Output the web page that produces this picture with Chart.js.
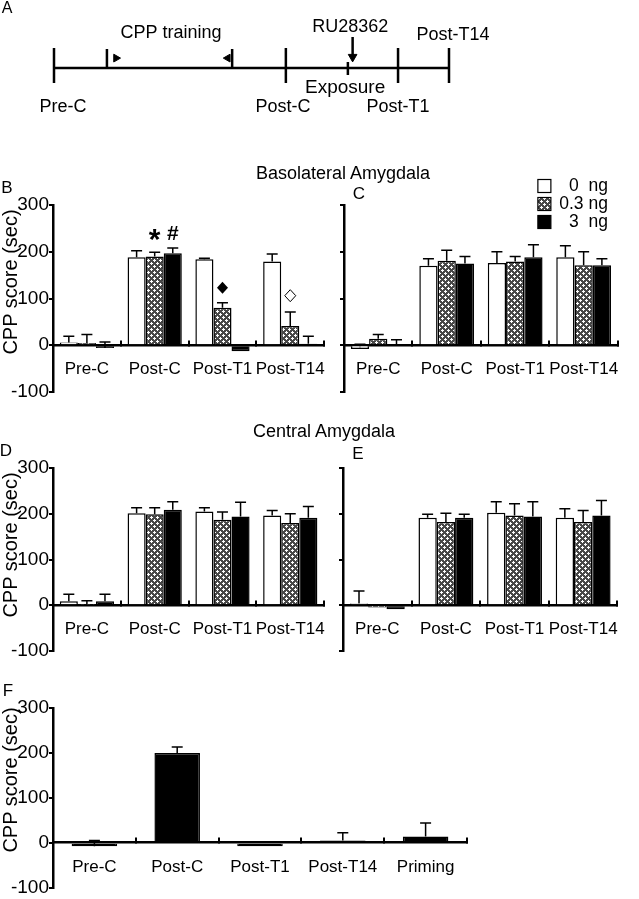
<!DOCTYPE html>
<html>
<head>
<meta charset="utf-8">
<script src="https://cdn.jsdelivr.net/npm/chart.js@4.4.1/dist/chart.umd.min.js"></script>
<style>
  body { margin: 0; background: #fff; }
  #fig { position: relative; width: 639px; height: 899px; font-family: 'Liberation Sans', Arial, sans-serif; color: #000; overflow: hidden; }
  #fig canvas { position: absolute; }
  .txt { position: absolute; white-space: pre; line-height: 1; transform: translate(-50%, -50%); }
  .ytitle { position: absolute; white-space: nowrap; font-size: 20px; line-height: 1; transform: translate(-50%, -50%) rotate(-90deg); }
</style>
</head>
<body>
<div id="fig">
  <canvas id="chartA" width="639" height="125" style="left:0;top:0"></canvas>
  <canvas id="chartB" width="345" height="215" style="left:0;top:190px"></canvas>
  <canvas id="chartC" width="309" height="235" style="left:330px;top:170px"></canvas>
  <canvas id="chartD" width="345" height="215" style="left:0;top:450px"></canvas>
  <canvas id="chartE" width="310" height="215" style="left:329px;top:450px"></canvas>
  <canvas id="chartF" width="639" height="209" style="left:0;top:690px"></canvas>

  <div class="txt" style="left:7px;top:8px;font-size:16px">A</div>
  <div class="txt" style="left:7px;top:187px;font-size:17px">B</div>
  <div class="txt" style="left:359px;top:193px;font-size:17px">C</div>
  <div class="txt" style="left:6px;top:450px;font-size:17px">D</div>
  <div class="txt" style="left:358px;top:453px;font-size:17px">E</div>
  <div class="txt" style="left:8px;top:690px;font-size:17px">F</div>
  <div class="txt" style="left:343px;top:173px;font-size:18px">Basolateral Amygdala</div>
  <div class="txt" style="left:324px;top:431px;font-size:18px">Central Amygdala</div>
  <div class="ytitle" style="left:10px;top:282px">CPP score (sec)</div>
  <div class="ytitle" style="left:10px;top:545px">CPP score (sec)</div>
  <div class="ytitle" style="left:10px;top:780px">CPP score (sec)</div>
</div>

<script>
// --- Data ---
const groups = ['Pre-C', 'Post-C', 'Post-T1', 'Post-T14']
const doses = ['0  ng', '0.3 ng', '3  ng']

// B: basolateral, RU28362 given right after Post-C
const bZero = [6, 188, 184, 179]
const bLow = [5, 190, 80, 41]
const bHigh = [-6, 197, -13, 3]
const bZeroErr = [13, 14, 2, 16]
const bLowErr = [18, 9, 11, 30]
const bHighErr = [13, 11, 0, 16]

// C: basolateral, delayed injection
const cZero = [-8, 170, 176, 188]
const cLow = [14, 181, 179, 171]
const cHigh = [0, 175, 188, 171]
const cZeroErr = [10, 15, 24, 25]
const cLowErr = [9, 22, 11, 29]
const cHighErr = [12, 15, 27, 14]

// D: central amygdala
const dZero = [9, 201, 205, 196]
const dLow = [1, 199, 187, 180]
const dHigh = [9, 209, 194, 191]
const dZeroErr = [15, 12, 8, 11]
const dLowErr = [9, 14, 17, 20]
const dHighErr = [15, 17, 31, 25]

// E: central amygdala, delayed injection
const eZero = [4, 191, 202, 191]
const eLow = [-5, 182, 196, 182]
const eHigh = [-9, 191, 194, 196]
const eZeroErr = [27, 8, 24, 20]
const eLowErr = [0, 19, 26, 25]
const eHighErr = [0, 8, 32, 33]

// F: priming test
const fGroups = ['Pre-C', 'Post-C', 'Post-T1', 'Post-T14', 'Priming']
const fValues = [-8, 200, -8, 5, 14]
const fErr = [13, 13, 0, 17, 30]

// significance marks on panel B
const bMarks = ['*', '#', 'diamond', 'openDiamond']
const bMarkGroup = [1, 1, 2, 3]
const bMarkSeries = [1, 2, 1, 1]
const bMarkY = [243, 238, 123, 106]

// timeline (panel A), positions along the schedule
const tlTests = [0, 58.7, 87.1, 100]
const tlTraining = [13.4, 45.1]
const tlDrug = 74.4
const tlText = ['CPP training', 'RU28362', 'Post-T14', 'Exposure', 'Pre-C', 'Post-C', 'Post-T1']
const tlTextX = [29.6, 75, 101, 73.7, 2.3, 58, 87.1]
const tlTextY = [1.17, 1.35, 1.1, -0.65, -1.3, -1.3, -1.3]

Chart.defaults.font.family = "'Liberation Sans', Arial, sans-serif"
Chart.defaults.color = '#000'

function makeHatch(ctx) {
  const c = document.createElement('canvas')
  c.width = 6
  c.height = 6
  const g = c.getContext('2d')
  g.fillStyle = '#484848'
  g.fillRect(0, 0, 6, 6)
  g.fillStyle = '#fff'
  ;[[1, 1], [4, 4]].forEach(([x, y]) => {
    g.fillRect(x - 1, y, 3, 1)
    g.fillRect(x, y - 1, 1, 3)
  })
  return ctx.createPattern(c, 'repeat')
}

// --- Plugins ---
const errorBars = {
  id: 'errorBars',
  beforeDatasetsDraw(chart) {
    const ctx = chart.ctx
    const y = chart.scales.y
    ctx.save()
    ctx.strokeStyle = '#000'
    ctx.lineWidth = 1.5
    chart.data.datasets.forEach((ds, i) => {
      chart.getDatasetMeta(i).data.forEach((bar, j) => {
        const sem = ds.sem[j]
        if (!sem) return
        const y0 = y.getPixelForValue(ds.data[j])
        const y1 = y.getPixelForValue(ds.data[j] + sem)
        ctx.beginPath()
        ctx.moveTo(bar.x, y0)
        ctx.lineTo(bar.x, y1)
        ctx.moveTo(bar.x - 5.5, y1)
        ctx.lineTo(bar.x + 5.5, y1)
        ctx.stroke()
      })
    })
    ctx.restore()
  }
}

const sigMarks = {
  id: 'sigMarks',
  afterDraw(chart) {
    const ctx = chart.ctx
    const y = chart.scales.y
    ctx.save()
    bMarks.forEach((m, k) => {
      const bar = chart.getDatasetMeta(bMarkSeries[k]).data[bMarkGroup[k]]
      const px = bar.x
      const py = y.getPixelForValue(bMarkY[k])
      ctx.fillStyle = '#000'
      ctx.strokeStyle = '#000'
      if (m === 'diamond' || m === 'openDiamond') {
        ctx.beginPath()
        ctx.moveTo(px, py - 6)
        ctx.lineTo(px + 5.5, py)
        ctx.lineTo(px, py + 6)
        ctx.lineTo(px - 5.5, py)
        ctx.closePath()
        if (m === 'diamond') ctx.fill()
        else { ctx.lineWidth = 1; ctx.stroke() }
      } else if (m === '*') {
        ctx.font = "bold 30px 'Liberation Sans', Arial"
        ctx.textAlign = 'center'
        ctx.textBaseline = 'alphabetic'
        ctx.fillText(m, px, py + 17)
      } else {
        ctx.font = "bold 21px 'Liberation Sans', Arial"
        ctx.textAlign = 'center'
        ctx.textBaseline = 'middle'
        ctx.fillText(m, px, py)
      }
    })
    ctx.restore()
  }
}

const doseLegend = {
  id: 'doseLegend',
  afterDraw(chart) {
    const ctx = chart.ctx
    const area = chart.chartArea
    ctx.save()
    ctx.font = "17.5px 'Liberation Sans', Arial"
    ctx.textAlign = 'right'
    ctx.textBaseline = 'middle'
    chart.data.datasets.forEach((ds, i) => {
      const cy = area.top - 19 + i * 18
      ctx.fillStyle = i === 2 ? '#000' : ds.backgroundColor
      ctx.fillRect(area.right - 80, cy - 6.5, 13, 13)
      ctx.strokeStyle = '#000'
      ctx.lineWidth = 1.2
      ctx.strokeRect(area.right - 80, cy - 6.5, 13, 13)
      ctx.fillStyle = '#000'
      ctx.fillText(ds.label, area.right - 10, cy)
    })
    ctx.restore()
  }
}

const timelineText = {
  id: 'timelineText',
  afterDraw(chart) {
    const ctx = chart.ctx
    const xs = chart.scales.x
    const ys = chart.scales.y
    ctx.save()
    ctx.fillStyle = '#000'
    ctx.textAlign = 'center'
    ctx.textBaseline = 'middle'
    tlText.forEach((t, i) => {
      ctx.font = (t === 'Exposure' ? '19px' : '18px') + " 'Liberation Sans', Arial"
      ctx.fillText(t, xs.getPixelForValue(tlTextX[i]), ys.getPixelForValue(tlTextY[i]))
    })
    ctx.restore()
  }
}

// --- Panel builders ---
function axisOptions(yWidth, showLabels) {
  return {
    x: {
      position: { y: 0 },
      grid: { drawOnChartArea: false, drawTicks: true, tickLength: -6, color: '#000', lineWidth: 2 },
      border: { color: '#000', width: 2.5 },
      ticks: { color: '#000', font: { size: 17 }, padding: 20, autoSkip: false, maxRotation: 0, minRotation: 0 }
    },
    y: {
      min: -100,
      max: 300,
      afterFit: s => { s.width = yWidth },
      ticks: { stepSize: 100, color: '#000', font: { size: 19 }, padding: 0, display: showLabels },
      grid: { drawOnChartArea: false, drawTicks: true, tickLength: 4, color: '#000', lineWidth: 2 },
      border: { color: '#000', width: 2.5 }
    }
  }
}

function groupedPanel(id, series, errs, yWidth, showLabels, padding, extraPlugins) {
  const ctx = document.getElementById(id).getContext('2d')
  const fills = ['#fff', makeHatch(ctx), '#000']
  return new Chart(ctx, {
    type: 'bar',
    data: {
      labels: groups,
      datasets: series.map((d, i) => ({
        label: doses[i],
        data: d,
        sem: errs[i],
        backgroundColor: fills[i],
        borderColor: '#000',
        borderWidth: 1.5,
        categoryPercentage: 0.8,
        barPercentage: 1
      }))
    },
    options: {
      responsive: false,
      animation: false,
      devicePixelRatio: 1,
      layout: { padding },
      plugins: { legend: { display: false }, tooltip: { enabled: false } },
      scales: axisOptions(yWidth, showLabels)
    },
    plugins: [errorBars].concat(extraPlugins || [])
  })
}

groupedPanel('chartB', [bZero, bLow, bHigh], [bZeroErr, bLowErr, bHighErr], 53, true,
  { top: 15, bottom: 13, left: 0, right: 2 }, [sigMarks])
groupedPanel('chartC', [cZero, cLow, cHigh], [cZeroErr, cLowErr, cHighErr], 14, false,
  { top: 35, bottom: 13, left: 0, right: 7 }, [doseLegend])
groupedPanel('chartD', [dZero, dLow, dHigh], [dZeroErr, dLowErr, dHighErr], 53, true,
  { top: 18, bottom: 14, left: 0, right: 2 })
groupedPanel('chartE', [eZero, eLow, eHigh], [eZeroErr, eLowErr, eHighErr], 14, false,
  { top: 18, bottom: 14, left: 0, right: 11 })

// F
new Chart(document.getElementById('chartF'), {
  type: 'bar',
  data: {
    labels: fGroups,
    datasets: [{
      label: 'CPP score',
      data: fValues,
      sem: fErr,
      backgroundColor: '#000',
      borderColor: '#000',
      borderWidth: 1.5,
      categoryPercentage: 0.55,
      barPercentage: 1
    }]
  },
  options: {
    responsive: false,
    animation: false,
    devicePixelRatio: 1,
    layout: { padding: { top: 18, bottom: 10, left: 0, right: 172 } },
    plugins: { legend: { display: false }, tooltip: { enabled: false } },
    scales: axisOptions(53, true)
  },
  plugins: [errorBars]
})

// A: timeline
function seg(x0, y0, x1, y1) {
  return { data: [{ x: x0, y: y0 }, { x: x1, y: y1 }], showLine: true, borderColor: '#000', borderWidth: 2.5, pointRadius: 0 }
}
const tlSets = [seg(0, 0, 100, 0)]
tlTests.forEach(x => tlSets.push(seg(x, 0.67, x, -0.5)))
tlTraining.forEach(x => tlSets.push(seg(x, 0.63, x, 0)))
tlSets.push(seg(tlDrug, 0.2, tlDrug, -0.23))
tlSets.push(seg(tlDrug + 1.2, 1.03, tlDrug + 1.2, 0.4))
tlSets.push({
  data: [{ x: tlDrug + 1.2, y: 0.37 }, { x: tlTraining[0] + 2.3, y: 0.33 }, { x: tlTraining[1] - 1.1, y: 0.33 }],
  pointStyle: 'triangle',
  rotation: [180, 90, -90],
  pointRadius: [5, 4.5, 4.5],
  backgroundColor: '#000',
  borderColor: '#000',
  borderWidth: 1
})

new Chart(document.getElementById('chartA'), {
  type: 'scatter',
  data: { datasets: tlSets },
  options: {
    responsive: false,
    animation: false,
    devicePixelRatio: 1,
    clip: false,
    layout: { padding: { top: 20, bottom: 9, left: 54, right: 190 } },
    plugins: { legend: { display: false }, tooltip: { enabled: false } },
    scales: {
      x: { type: 'linear', min: 0, max: 100, display: false },
      y: { type: 'linear', min: -1.6, max: 1.6, display: false }
    }
  },
  plugins: [timelineText]
})
</script>
</body>
</html>
